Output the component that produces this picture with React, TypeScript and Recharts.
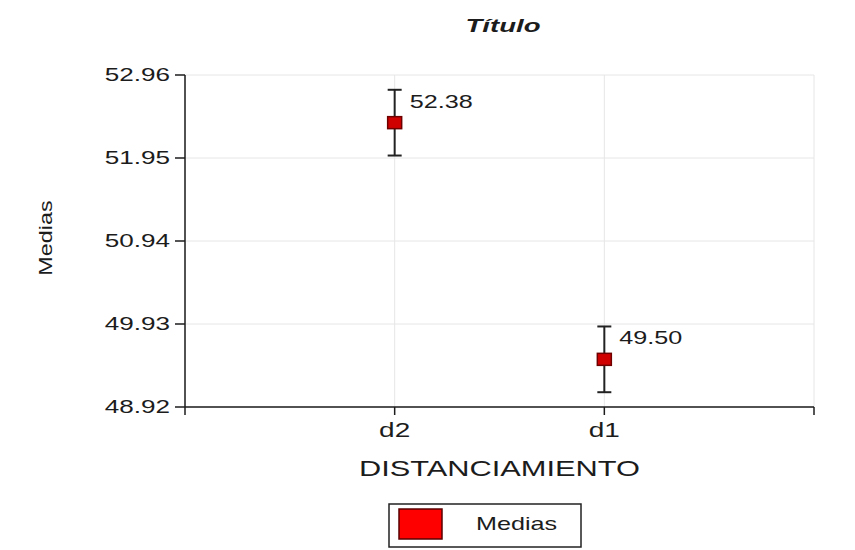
import React from 'react';
import {
  ScatterChart,
  Scatter,
  XAxis,
  YAxis,
  CartesianGrid,
  ErrorBar,
  Legend,
  Customized,
} from 'recharts';

const categories = ['d2', 'd1'];
const means = [52.38, 49.5];
const errors = [0.4, 0.4];
const yTicks = [48.92, 49.93, 50.94, 51.95, 52.96];
const xTicks = [0, 1, 2, 3];

const rows = categories.map((name, i) => ({
  pos: i + 1,
  name,
  mean: means[i],
  err: errors[i],
}));

const FONT = '"Liberation Sans", Arial, sans-serif';
const INK = '#1c1c1c';

// text drawn a bit wider than the font's natural width
function WideText({
  x,
  y,
  size,
  anchor = 'middle',
  sx = 1.4,
  angle = 0,
  weight = 'normal',
  italic = false,
  children,
}: any) {
  return (
    <text
      transform={`translate(${x},${y}) rotate(${angle}) scale(${sx},1)`}
      textAnchor={anchor}
      fontFamily={FONT}
      fontSize={size}
      fontWeight={weight}
      fontStyle={italic ? 'italic' : 'normal'}
      fill={INK}
    >
      {children}
    </text>
  );
}

const YTick = ({ x, y, payload }: any) => (
  <WideText x={x} y={y + 6.4} size={18} anchor="end" sx={1.45}>
    {Number(payload.value).toFixed(2)}
  </WideText>
);

const XTick = ({ x, y, payload }: any) => (
  <WideText x={x} y={y + 18} size={20}>
    {categories[payload.value - 1] ?? ''}
  </WideText>
);

// red square for the mean, with its value written to the upper right
const MeanMarker = ({ cx, cy, payload }: any) => (
  <g>
    <rect x={cx - 7} y={cy - 6} width={14} height={12} fill="#d10000" stroke="#6e0000" strokeWidth={1.5} />
    <WideText x={cx + 15} y={cy - 15} size={18} anchor="start">
      {payload.mean.toFixed(2)}
    </WideText>
  </g>
);

const LegendBox = ({ payload }: any) => (
  <svg width={194} height={45}>
    <rect x={1} y={1} width={192} height={43} fill="#fff" stroke="#222" strokeWidth={1.5} />
    <rect x={11} y={6} width={43} height={30} fill="#ff0000" stroke="#5a0000" strokeWidth={1.5} />
    <WideText x={88} y={27} size={18} anchor="start">
      {payload?.[0]?.value ?? 'Medias'}
    </WideText>
  </svg>
);

export default function App() {
  return (
    <div style={{ position: 'absolute', left: 0, top: 0, background: '#fff' }}>
      <ScatterChart width={855} height={550} margin={{ top: 75, right: 41, bottom: 73, left: 0 }}>
        <CartesianGrid stroke="#e6e6e6" strokeWidth={1} />
        <XAxis
          type="number"
          dataKey="pos"
          domain={[0, 3]}
          ticks={xTicks}
          interval={0}
          height={70}
          tickSize={8}
          tickMargin={4}
          stroke={INK}
          strokeWidth={1.5}
          tick={<XTick />}
          label={{
            content: ({ viewBox }: any) => (
              <WideText x={viewBox.x + viewBox.width / 2} y={476} size={22}>
                DISTANCIAMIENTO
              </WideText>
            ),
          }}
        />
        <YAxis
          type="number"
          dataKey="mean"
          domain={[48.92, 52.96]}
          ticks={yTicks}
          interval={0}
          width={185}
          tickSize={10}
          tickMargin={5}
          stroke={INK}
          strokeWidth={1.5}
          tick={<YTick />}
          label={{
            content: ({ viewBox }: any) => (
              <WideText x={52} y={viewBox.y + viewBox.height / 2 - 3} size={18} angle={-90} sx={1.3}>
                Medias
              </WideText>
            ),
          }}
        />
        <Scatter
          name="Medias"
          data={rows}
          fill="#d10000"
          shape={<MeanMarker />}
          isAnimationActive={false}
        >
          <ErrorBar dataKey="err" direction="y" width={7} stroke="#222" strokeWidth={2} />
        </Scatter>
        <Legend
          layout="horizontal"
          verticalAlign="middle"
          align="center"
          content={<LegendBox />}
          wrapperStyle={{ left: 388, top: 503, width: 194, height: 45 }}
        />
        <Customized
          component={() => (
            <WideText x={503} y={32} size={19} weight="bold" italic sx={1.45}>
              Título
            </WideText>
          )}
        />
      </ScatterChart>
    </div>
  );
}
